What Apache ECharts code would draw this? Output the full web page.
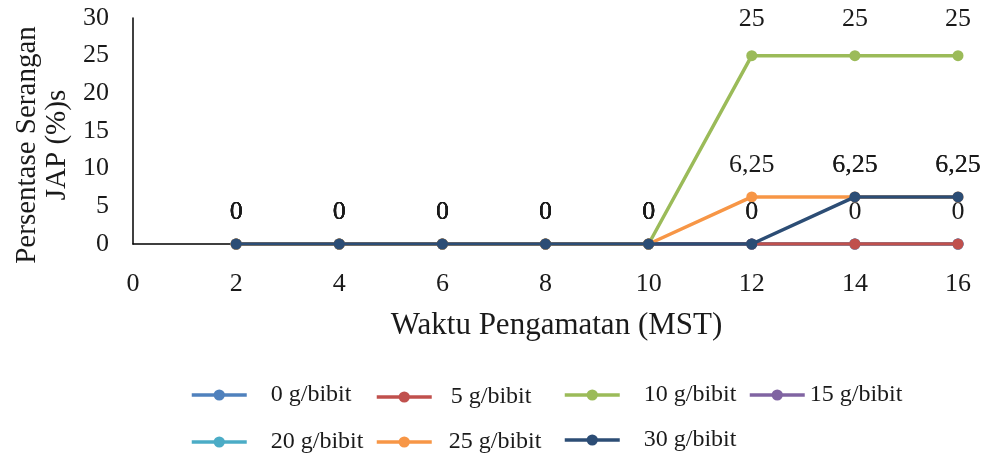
<!DOCTYPE html>
<html>
<head>
<meta charset="utf-8">
<script src="https://cdn.jsdelivr.net/npm/echarts@6/dist/echarts.min.js"></script>
<style>html,body{margin:0;padding:0;background:#fff}#c{width:988px;height:456px}</style>
</head>
<body>
<div id="c"></div>
<script>
var weeks = [2, 4, 6, 8, 10, 12, 14, 16];
var seriesNames = ['0 g/bibit', '5 g/bibit', '10 g/bibit', '15 g/bibit', '20 g/bibit', '25 g/bibit', '30 g/bibit'];
var v0 = [0, 0, 0, 0, 0, 0, 0, 0];
var v5 = [0, 0, 0, 0, 0, 0, 0, 0];
var v10 = [0, 0, 0, 0, 0, 25, 25, 25];
var v15 = [0, 0, 0, 0, 0, 0, 0, 0];
var v20 = [0, 0, 0, 0, 0, 0, 0, 0];
var v25 = [0, 0, 0, 0, 0, 6.25, 6.25, 6.25];
var v30 = [0, 0, 0, 0, 0, 0, 6.25, 6.25];
var xTicks = [0, 2, 4, 6, 8, 10, 12, 14, 16];
var yTicks = [0, 5, 10, 15, 20, 25, 30];

var allValues = [v0, v5, v10, v15, v20, v25, v30];
var colors = ['#4f81bd', '#c0504d', '#9bbb59', '#8064a2', '#4bacc6', '#f79646', '#2c4d75'];
var showLabel = [false, true, true, false, false, true, true];
var zOrder = [2, 5, 6, 3, 4, 7, 8];
var FONT = '"Liberation Serif", "Times New Roman", serif';

function items(vals) {
  return weeks.map(function (w, i) {
    var it = { value: [w, vals[i]] };
    if (vals[i] >= 20) it.label = { distance: 18 };
    return it;
  });
}

var series = seriesNames.map(function (n, i) {
  return {
    name: n, type: 'line', data: items(allValues[i]),
    symbol: 'circle', symbolSize: 11,
    lineStyle: { color: colors[i], width: 3.5 },
    itemStyle: { color: colors[i] },
    z: zOrder[i],
    label: {
      show: showLabel[i], position: 'top', distance: 13,
      fontFamily: FONT, fontSize: 26, color: '#1a1a1a',
      formatter: function (p) { return String(p.value[1]).replace('.', ','); }
    },
    labelLayout: { hideOverlap: false },
    emphasis: { disabled: true }
  };
});

// legend placements [left, iconCenterY, textGap]
var legendPos = [
  [190, 393, 27],
  [375, 395, 22],
  [563, 393, 27],
  [748, 393, 2],
  [190, 440, 27],
  [375, 440, 20],
  [563, 438, 27]
];
var legends = seriesNames.map(function (n, i) {
  var p = legendPos[i];
  return {
    data: [n], left: p[0], top: p[1] - 10, orient: 'horizontal',
    itemWidth: 55, itemHeight: 14, itemGap: 0, padding: 0,
    lineStyle: { width: 3.5 },
    textStyle: {
      fontFamily: FONT, fontSize: 24, color: '#1a1a1a',
      padding: [0, 0, 0, Math.max(0, p[2] - 8)]
    }
  };
});

var chart = echarts.init(document.getElementById('c'), null, { renderer: 'canvas' });
chart.setOption({
  animation: false,
  backgroundColor: '#ffffff',
  grid: { left: 133, right: 30, top: 18, bottom: 212, containLabel: false, outerBoundsMode: 'none' },
  legend: legends,
  xAxis: {
    type: 'value', min: xTicks[0], max: xTicks[xTicks.length - 1], interval: 2,
    name: 'Waktu Pengamatan (MST)', nameLocation: 'middle', nameGap: 66,
    nameTextStyle: { fontFamily: FONT, fontSize: 31, color: '#1a1a1a', padding: [0, 0, 0, 22] },
    axisLine: { show: true, onZero: false, lineStyle: { color: '#000', width: 1.5 } },
    axisTick: { show: false },
    splitLine: { show: false },
    axisLabel: { fontFamily: FONT, fontSize: 26, color: '#1a1a1a', margin: 27 }
  },
  yAxis: {
    type: 'value', min: yTicks[0], max: yTicks[yTicks.length - 1], interval: 5,
    name: 'Persentase Serangan\nJAP (%)s', nameLocation: 'middle', nameGap: 58, nameRotate: 90,
    nameTextStyle: { fontFamily: FONT, fontSize: 29, color: '#1a1a1a', lineHeight: 30, padding: [0, 28, 0, 0] },
    axisLine: { show: true, lineStyle: { color: '#000', width: 1.5 } },
    axisTick: { show: false },
    splitLine: { show: false },
    axisLabel: { fontFamily: FONT, fontSize: 26, color: '#1a1a1a', margin: 24 }
  },
  series: series
});
</script>
</body>
</html>
